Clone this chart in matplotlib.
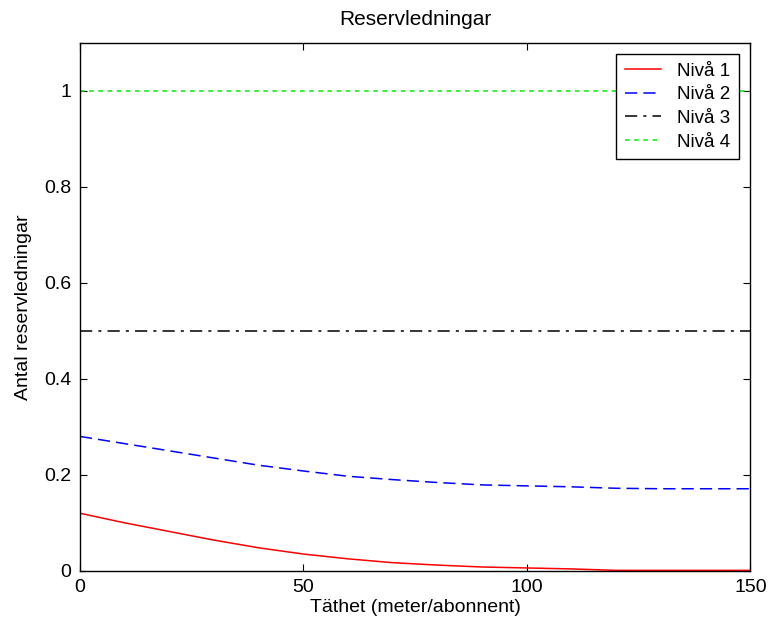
import matplotlib.pyplot as plt

plt.rcParams['font.family'] = ['Liberation Sans', 'DejaVu Sans']

# density (meter/subscriber)
x = [0, 10, 20, 30, 40, 50, 60, 70, 80, 90, 100, 110, 120, 130, 140, 150]
niva1 = [0.12, 0.10, 0.082, 0.064, 0.048, 0.035, 0.025, 0.017, 0.012, 0.008,
         0.006, 0.004, 0.001, 0.001, 0.001, 0.001]
niva2 = [0.28, 0.265, 0.25, 0.235, 0.22, 0.208, 0.197, 0.19, 0.184, 0.179,
         0.177, 0.175, 0.172, 0.171, 0.171, 0.171]
niva3 = [0.5] * len(x)
niva4 = [1.0] * len(x)
labels = ['Nivå 1', 'Nivå 2', 'Nivå 3', 'Nivå 4']

fig = plt.figure(figsize=(7.68, 6.28), dpi=100)
ax = fig.add_axes([0.104, 0.091, 0.873, 0.841])

ax.plot(x, niva1, color='#ff0000', lw=1.1, label=labels[0])
ax.plot(x, niva2, color='#0000ff', lw=1.1, dashes=(8, 4), label=labels[1])
ax.plot(x, niva3, color='black', lw=1.1, dashes=(8, 4, 2, 4), label=labels[2])
ax.plot(x, niva4, color='#00ee00', lw=1.1, dashes=(3, 3), label=labels[3])

ax.set_xlim(0, 150)
ax.set_ylim(0, 1.1)
ax.set_xticks([0, 50, 100, 150])
ax.set_yticks([0, 0.2, 0.4, 0.6, 0.8, 1])
ax.set_yticklabels(['0', '0.2', '0.4', '0.6', '0.8', '1'])
ax.tick_params(direction='in', top=True, right=True, labelsize=14, length=5, pad=6)
for s in ax.spines.values():
    s.set_linewidth(1)

ax.set_xlabel('Täthet (meter/abonnent)', fontsize=14, labelpad=2)
ax.set_ylabel('Antal reservledningar', fontsize=14, labelpad=9)
ax.set_title('Reservledningar', fontsize=15, pad=13)

leg = ax.legend(loc='upper right', fontsize=13.5, fancybox=False, framealpha=1,
                edgecolor='black', borderaxespad=0.6, handlelength=1.9,
                handletextpad=0.9, labelspacing=0.35, borderpad=0.45)
leg.get_frame().set_linewidth(1)

fig.savefig('out.png', dpi=100)
